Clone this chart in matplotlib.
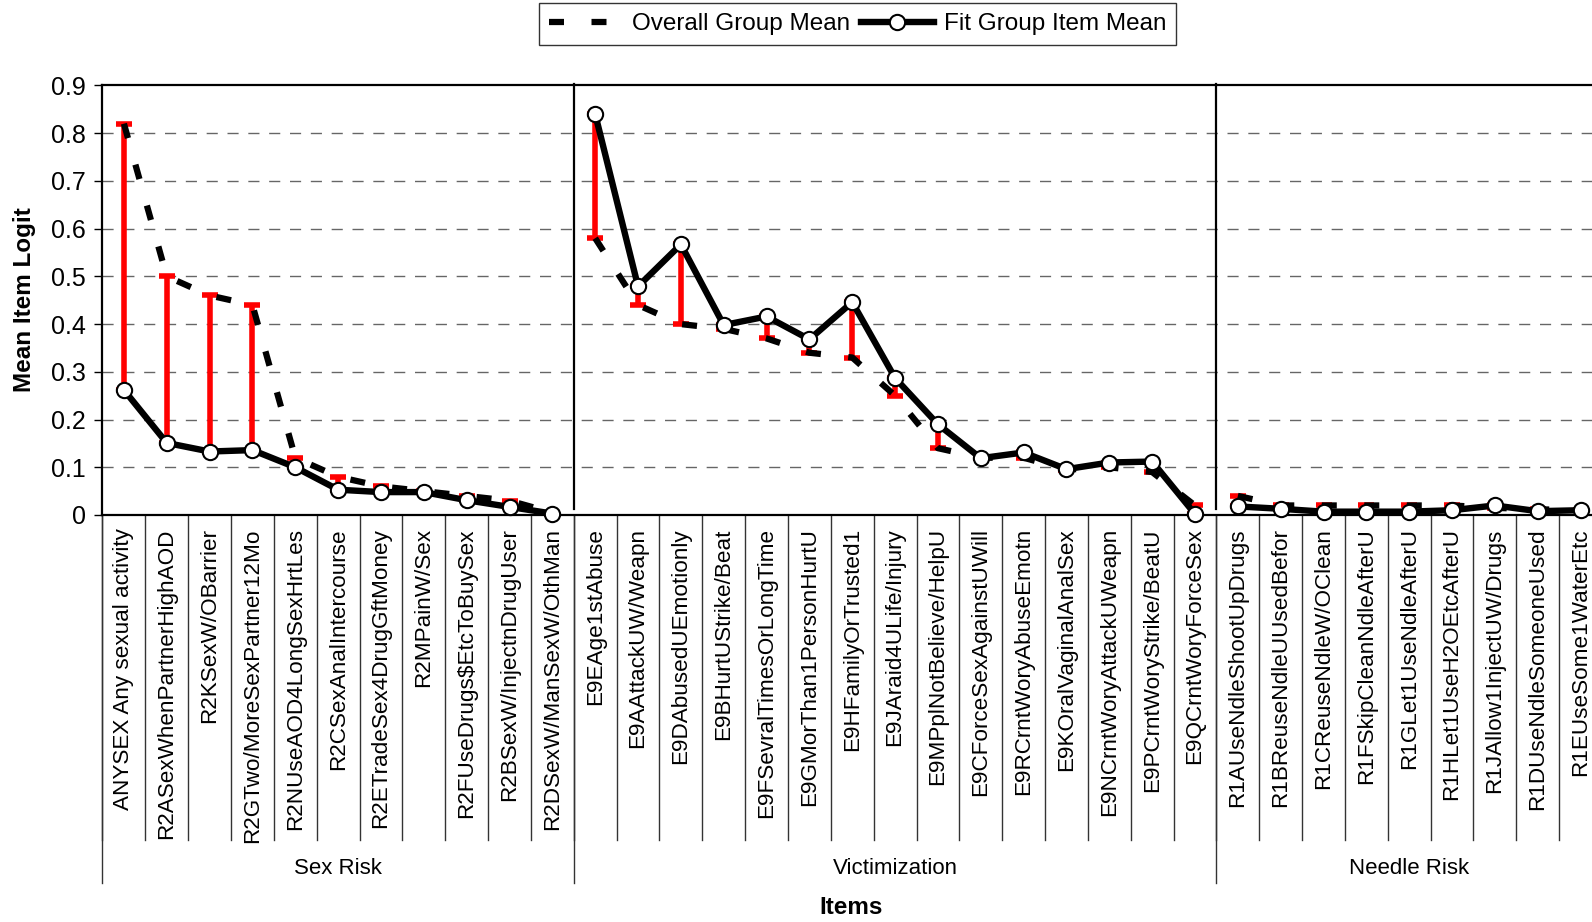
import numpy as np
import matplotlib
matplotlib.use("Agg")
import matplotlib.pyplot as plt
from matplotlib.lines import Line2D

plt.rcParams['font.family'] = ['Liberation Sans', 'DejaVu Sans']

# ---------------- data ----------------
categories = [
    "ANYSEX Any sexual activity", "R2ASexWhenPartnerHighAOD", "R2KSexW/OBarrier",
    "R2GTwo/MoreSexPartner12Mo", "R2NUseAOD4LongSexHrtLes", "R2CSexAnalIntercourse",
    "R2ETradeSex4DrugGftMoney", "R2MPainW/Sex", "R2FUseDrugs$EtcToBuySex",
    "R2BSexW/InjectnDrugUser", "R2DSexW/ManSexW/OthMan",
    "E9EAge1stAbuse", "E9AAttackUW/Weapn", "E9DAbusedUEmotionly", "E9BHurtUStrike/Beat",
    "E9FSevralTimesOrLongTime", "E9GMorThan1PersonHurtU", "E9HFamilyOrTrusted1",
    "E9JAraid4ULife/Injury", "E9MPplNotBelieve/HelpU", "E9CForceSexAgainstUWill",
    "E9RCrntWoryAbuseEmotn", "E9KOralVaginalAnalSex", "E9NCrntWoryAttackUWeapn",
    "E9PCrntWoryStrike/BeatU", "E9QCrntWoryForceSex",
    "R1AUseNdleShootUpDrugs", "R1BReuseNdleUUsedBefor", "R1CReuseNdleW/OClean",
    "R1FSkipCleanNdleAfterU", "R1GLet1UseNdleAfterU", "R1HLet1UseH2OEtcAfterU",
    "R1JAllow1InjectUW/Drugs", "R1DUseNdleSomeoneUsed", "R1EUseSome1WaterEtc",
]
groups = ["Sex Risk", "Victimization", "Needle Risk"]
group_sizes = [11, 15, 9]

fit_mean = [0.262, 0.151, 0.133, 0.136, 0.100, 0.053, 0.048, 0.048, 0.031, 0.017, 0.003,
            0.840, 0.479, 0.567, 0.398, 0.416, 0.368, 0.446, 0.287, 0.190, 0.119,
            0.131, 0.096, 0.110, 0.112, 0.002,
            0.018, 0.013, 0.007, 0.007, 0.007, 0.010, 0.020, 0.008, 0.010]
overall_mean = [0.82, 0.50, 0.46, 0.44, 0.12, 0.08, 0.06, 0.05, 0.04, 0.03, 0.005,
                0.58, 0.44, 0.40, 0.39, 0.37, 0.34, 0.33, 0.25, 0.14, 0.12,
                0.12, 0.095, 0.10, 0.09, 0.02,
                0.04, 0.02, 0.02, 0.02, 0.02, 0.02, 0.015, 0.012, 0.01]

y_ticks = [0, 0.1, 0.2, 0.3, 0.4, 0.5, 0.6, 0.7, 0.8, 0.9]
y_title = "Mean Item Logit"
x_title = "Items"
legend_labels = ["Overall Group Mean", "Fit Group Item Mean"]

# ---------------- figure ----------------
W, H = 1592, 922
fig = plt.figure(figsize=(W / 100, H / 100), dpi=100)
left_px, right_px, top_px, bottom_px = 102.5, 1602.0, 85.5, 515.0
ax = fig.add_axes([left_px / W, 1 - bottom_px / H,
                   (right_px - left_px) / W, (bottom_px - top_px) / H])

n = len(categories)
x = np.arange(n)
fit = np.array(fit_mean)
ovr = np.array(overall_mean)

ax.set_xlim(-0.5, n - 0.5)
ax.set_ylim(0, 0.9)

# gridlines
for yv in y_ticks[1:-1]:
    ax.axhline(yv, color='#666666', lw=1.0, ls=(0, (8, 7)), zorder=1)

# red connectors (error bars from overall to fit)
lower = np.maximum(ovr - fit, 0)
upper = np.maximum(fit - ovr, 0)
eb = ax.errorbar(x, ovr, yerr=[lower, upper], fmt='none', ecolor='#ff0000',
                 elinewidth=4.0, capsize=6, capthick=4.0, zorder=2, clip_on=False)

# lines per group
start = 0
for gs in group_sizes:
    sl = slice(start, start + gs)
    ax.plot(x[sl], ovr[sl], color='black', lw=4.5, ls=(0, (2.4, 4.4)),
            dash_capstyle='butt', zorder=3, clip_on=False)
    ax.plot(x[sl], fit[sl], color='black', lw=4.6, marker='o', markersize=11,
            markerfacecolor='white', markeredgecolor='black', markeredgewidth=1.5,
            zorder=4, clip_on=False)
    start += gs

# spines
for s in ['top', 'bottom', 'left']:
    ax.spines[s].set_linewidth(1.6)
    ax.spines[s].set_color('black')
ax.spines['right'].set_visible(False)

# y axis
ax.set_yticks(y_ticks)
ax.set_yticklabels([f"{v:g}" for v in y_ticks], fontsize=18)
ax.tick_params(axis='y', direction='out', length=6, width=1, pad=6)
fig.text(24.4 / W, 1 - 300 / H, y_title, rotation=90, ha='center', va='center',
         fontsize=17.5, fontweight='bold')

# x axis category labels
ax.set_xticks(x)
ax.set_xticklabels(categories, rotation=90, fontsize=16.2, va='top', ha='center')
ax.tick_params(axis='x', length=0, pad=9.5)

xtr = ax.get_xaxis_transform()
axes_h = bottom_px - top_px
sep_bottom = -(840 - bottom_px) / axes_h
grp_bottom = -(883 - bottom_px) / axes_h
grp_label_y = -(868 - bottom_px) / axes_h

# category separators
for b in np.arange(n + 1) - 0.5:
    ax.plot([b, b], [0, sep_bottom], transform=xtr, color='#333333', lw=1.0,
            clip_on=False, zorder=1)

# group dividers and labels
start = 0
bounds = [-0.5]
for g, gs in zip(groups, group_sizes):
    c = start + (gs - 1) / 2
    ax.text(c, grp_label_y, g, transform=xtr, ha='center', va='center', fontsize=16)
    start += gs
    bounds.append(start - 0.5)
for i, b in enumerate(bounds):
    ax.plot([b, b], [0, grp_bottom], transform=xtr, color='#333333', lw=1.0,
            clip_on=False, zorder=1)
    if 0 < i < len(bounds) - 1:
        ax.plot([b, b], [0.012, 0.903], color='black', lw=1.6, clip_on=False, zorder=1)

fig.text(851 / W, 1 - 907 / H, x_title, ha='center', va='center',
         fontsize=17.5, fontweight='bold')

# legend
h1 = Line2D([], [], color='black', lw=4.5, ls=(0, (2.4, 4.4)), dash_capstyle='butt')
h2 = Line2D([], [], color='black', lw=4.6, marker='o', markersize=11,
            markerfacecolor='white', markeredgecolor='black', markeredgewidth=1.5)
leg = fig.legend([h1, h2], legend_labels, loc='upper left',
                 bbox_to_anchor=(539 / W, 1 - 3 / H), ncol=2, fontsize=17.5,
                 frameon=True, fancybox=False, handlelength=3.0, handletextpad=0.4,
                 columnspacing=0.45, borderpad=0.42, borderaxespad=0)
leg.get_frame().set_edgecolor('black')
leg.get_frame().set_linewidth(1.0)

fig.savefig("out.png", dpi=100)
